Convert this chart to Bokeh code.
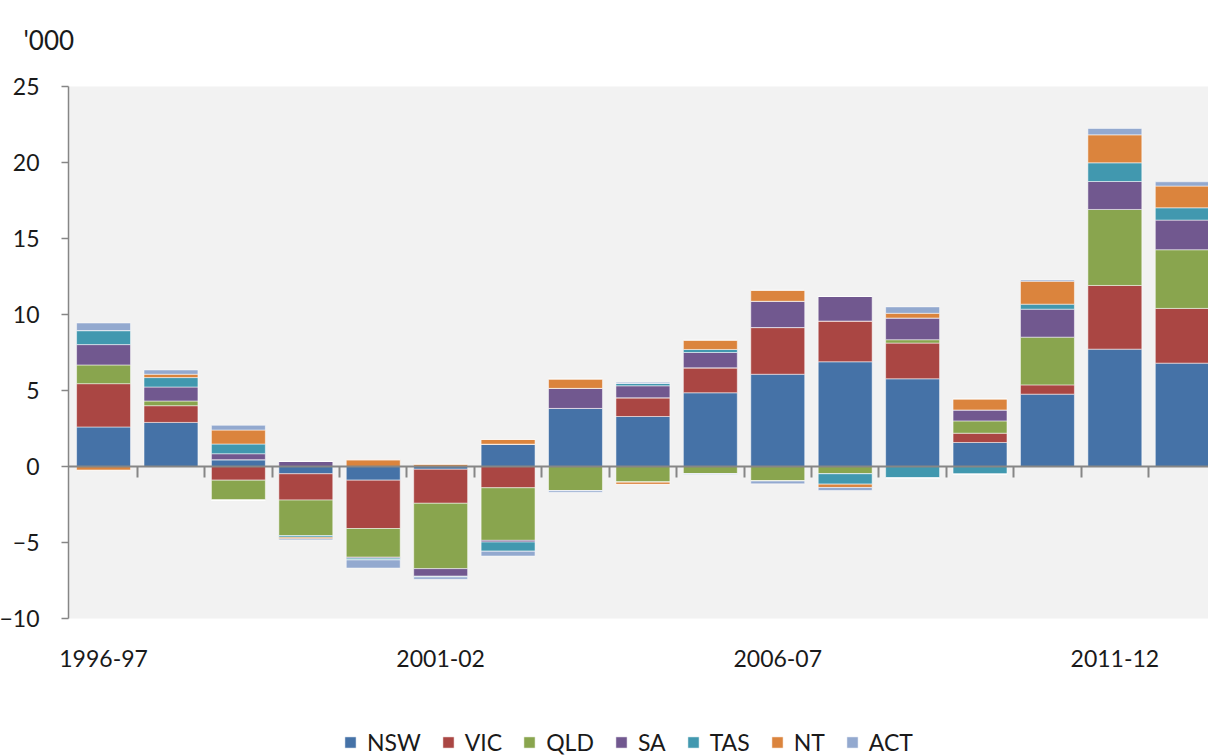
from bokeh.plotting import figure
from bokeh.models import (ColumnDataSource, FixedTicker, Legend, LegendItem,
                          BoxAnnotation, Range1d, LinearAxis, Label)
from bokeh.embed import file_html
from bokeh.resources import INLINE

# ---- data ----
years = ["1996-97", "1997-98", "1998-99", "1999-00", "2000-01", "2001-02",
         "2002-03", "2003-04", "2004-05", "2005-06", "2006-07", "2007-08",
         "2008-09", "2009-10", "2010-11", "2011-12", "2012-13"]
NSW = [2.6, 2.9, 0.45, -0.48, -0.9, -0.18, 1.47, 3.82, 3.29, 4.85, 6.07, 6.89, 5.77, 1.58, 4.76, 7.72, 6.8]
VIC = [2.85, 1.1, -0.9, -1.73, -3.18, -2.24, -1.4, 0.0, 1.23, 1.64, 3.07, 2.68, 2.35, 0.61, 0.61, 4.19, 3.6]
QLD = [1.23, 0.31, -1.32, -2.35, -1.89, -4.3, -3.46, -1.6, -1.03, -0.48, -0.96, -0.48, 0.22, 0.81, 3.14, 5.0, 3.86]
SA = [1.34, 0.92, 0.39, 0.33, -0.06, -0.5, -0.11, 1.32, 0.79, 1.01, 1.73, 1.62, 1.43, 0.72, 1.84, 1.84, 1.95]
TAS = [0.92, 0.62, 0.64, -0.1, -0.12, -0.05, -0.61, 0.0, 0.15, 0.2, 0.0, -0.68, -0.75, -0.5, 0.33, 1.23, 0.81]
NT = [-0.25, 0.22, 0.92, -0.1, 0.44, 0.15, 0.31, 0.61, -0.15, 0.61, 0.72, -0.22, 0.31, 0.72, 1.51, 1.84, 1.43]
ACT = [0.5, 0.28, 0.31, -0.07, -0.53, -0.15, -0.31, -0.1, 0.08, -0.05, -0.18, -0.2, 0.42, 0.0, 0.08, 0.42, 0.28]

states = ["NSW", "VIC", "QLD", "SA", "TAS", "NT", "ACT"]
series = [NSW, VIC, QLD, SA, TAS, NT, ACT]
colors = ["#4572A7", "#AA4643", "#89A54E", "#71588F", "#4198AF", "#DB843D", "#93A9CF"]
y_ticks = [-10, -5, 0, 5, 10, 15, 20, 25]
y_min, y_max = -10, 25
unit_label = "'000"
label_every = 5

FONT = "Lato"
TEXT = "#1a1a1a"
GRAY = "#868686"

# ---- layout (pixels) : the frame covers the whole canvas, the grey plot
# area is drawn from x_left / y_min / y_max ----
W, H = 1208, 756
PX_Y = 15.2            # pixels per '000
PX_X = 67.42           # pixels per category
AREA_LEFT_PX, AREA_TOP_PX = 68, 86
x_left = -0.52
x0 = x_left - AREA_LEFT_PX / PX_X
x1 = x0 + W / PX_X
y1 = y_max + AREA_TOP_PX / PX_Y
y0 = y1 - H / PX_Y

x = list(range(len(years)))
data = {"x": x}
for name, vals in zip(states, series):
    data[name + "_pos"] = [v if v > 0 else 0 for v in vals]
    data[name + "_neg"] = [v if v < 0 else 0 for v in vals]
source = ColumnDataSource(data)

p = figure(width=W, height=H, output_backend="svg", toolbar_location=None, title=None,
           x_range=Range1d(x0, x1), y_range=Range1d(y0, y1), min_border=0)
p.background_fill_color = "white"
p.border_fill_color = "white"
p.outline_line_color = None
p.xgrid.visible = False
p.ygrid.visible = False

# grey plot area
p.add_layout(BoxAnnotation(left=x_left, bottom=y_min, top=y_max, fill_color="#F2F2F2",
                           fill_alpha=1, line_color=None, level="underlay"))

pos = p.vbar_stack([s + "_pos" for s in states], x="x", width=0.8, color=colors,
                   line_color="white", line_alpha=0.5, line_width=1, source=source)
p.vbar_stack([s + "_neg" for s in states], x="x", width=0.8, color=colors,
             line_color="white", line_alpha=0.5, line_width=1, source=source)

# y axis on the left edge of the grey area
ya = p.yaxis[0]
ya.fixed_location = x_left
ya.bounds = (y_min, y_max)
ya.ticker = FixedTicker(ticks=y_ticks)
ya.axis_line_color = GRAY
ya.axis_line_width = 1.5
ya.major_tick_line_color = GRAY
ya.major_tick_line_width = 1.5
ya.major_tick_out = 7
ya.major_tick_in = 0
ya.minor_tick_line_color = None
ya.major_label_standoff = 22
ya.major_label_text_font = FONT
ya.major_label_text_font_size = "23px"
ya.major_label_text_color = TEXT

# category labels under the grey area
xa = p.xaxis[0]
xa.fixed_location = y_min
shown = [i for i in x if i % label_every == 0]
xa.ticker = FixedTicker(ticks=shown)
xa.major_label_overrides = {i: years[i] for i in shown}
xa.axis_line_color = None
xa.major_tick_line_color = None
xa.major_tick_out = 0
xa.minor_tick_line_color = None
xa.major_label_standoff = 31
xa.major_label_text_font = FONT
xa.major_label_text_font_size = "23px"
xa.major_label_text_color = TEXT

# zero line with the category separator ticks
za = LinearAxis(fixed_location=0, bounds=(x_left, x1))
za.ticker = FixedTicker(ticks=[i + 0.5 for i in x])
za.axis_line_color = GRAY
za.axis_line_width = 2
za.major_tick_line_color = GRAY
za.major_tick_line_width = 2
za.major_tick_out = 11
za.major_tick_in = 0
za.minor_tick_line_color = None
za.major_label_text_color = None
za.major_label_text_font_size = "1px"
p.add_layout(za, "below")

# unit label
p.add_layout(Label(x=x_left - 45 / PX_X, y=y_max + 47 / PX_Y, text=unit_label,
                   text_font=FONT, text_font_size="26px", text_color=TEXT,
                   text_baseline="middle", text_align="left"))

# legend
legend = Legend(items=[LegendItem(label=s, renderers=[r]) for s, r in zip(states, pos)],
                orientation="horizontal", location=(343, 0))
legend.background_fill_alpha = 0
legend.border_line_color = None
legend.padding = 0
legend.margin = 0
legend.spacing = 20
legend.glyph_width = 14
legend.glyph_height = 14
legend.label_standoff = 10
legend.label_text_font = FONT
legend.label_text_font_size = "23px"
legend.label_text_color = TEXT
p.add_layout(legend)

open("out.html", "w").write(file_html(p, INLINE))
